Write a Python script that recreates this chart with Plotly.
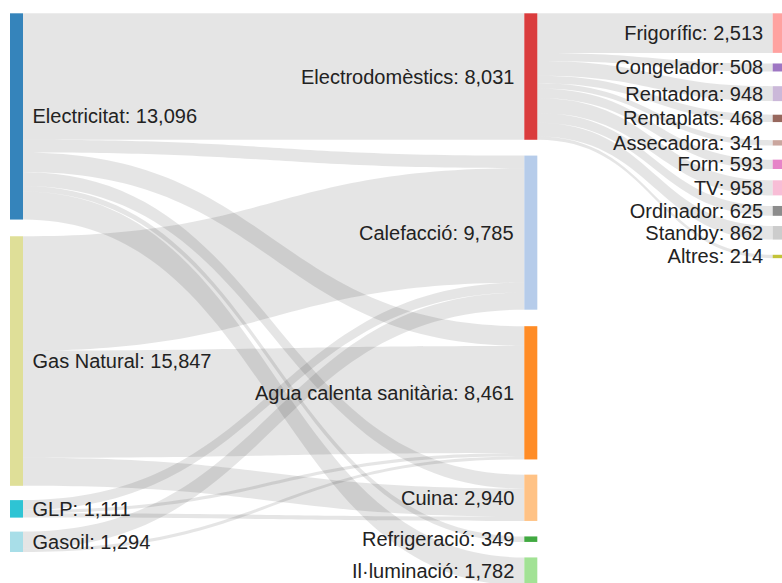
import plotly.graph_objects as go

# ---------------- data ----------------
energy_sources = ["Electricitat", "Gas Natural", "GLP", "Gasoil"]
energy_totals = [13096, 15847, 1111, 1294]

end_uses = ["Electrodomèstics", "Calefacció", "Agua calenta sanitària", "Cuina",
            "Refrigeració", "Il·luminació"]
end_use_totals = [8031, 9785, 8461, 2940, 349, 1782]

appliances = ["Frigorífic", "Congelador", "Rentadora", "Rentaplats", "Assecadora",
              "Forn", "TV", "Ordinador", "Standby", "Altres"]
appliance_totals = [2513, 508, 948, 468, 341, 593, 958, 625, 862, 214]

# flows from each energy source to each end use (same order as end_uses)
electricitat_to_use = [8031, 800, 1250, 884, 349, 1782]
gas_natural_to_use = [0, 7267, 6800, 1780, 0, 0]
glp_to_use = [0, 624, 211, 276, 0, 0]
gasoil_to_use = [0, 1094, 200, 0, 0, 0]
source_flows = [electricitat_to_use, gas_natural_to_use, glp_to_use, gasoil_to_use]

# ---------------- style / layout ----------------
FIG_W, FIG_H = 782, 583
NODE_PAD = 17.86
THICK = 13
LABEL_GAP = 9.5
FONT = dict(family="Liberation Sans, Arial, sans-serif", size=20, color="#222222")
source_colors = ["#1f77b4", "#dbdb8d", "#17becf", "#9edae5"]
use_colors = ["#d62728", "#aec7e8", "#ff7f0e", "#ffbb78", "#2ca02c", "#98df8a"]
appliance_colors = ["#ff9896", "#9467bd", "#c5b0d5", "#8c564b", "#c49c94",
                    "#e377c2", "#f7b6d2", "#7f7f7f", "#c7c7c7", "#bcbd22"]
column_x0 = [10.0, 524.3, 772.7]
column_top = [13.3, 13.3, 13.3]
column_gaps = [
    [16.7, 14.3, 14.0],
    [15.8, 16.5, 15.2, 15.5, 15.5],
    [10.6, 14.7, 13.6, 18.1, 14.1, 11.3, 10.6, 10.2, 15.2],
]


def rgba(hex_color, a=0.9):
    h = hex_color.lstrip("#")
    r, g, b = int(h[0:2], 16), int(h[2:4], 16), int(h[4:6], 16)
    return f"rgba({r},{g},{b},{a})"


# vertical scale used by the sankey (middle column sets the scale)
ky = (FIG_H - (len(end_uses) - 1) * NODE_PAD) / sum(end_use_totals)


def stack_centers(values, top, gaps):
    centers = []
    y = top
    for i, v in enumerate(values):
        h = v * ky
        centers.append(y + h / 2)
        y += h + (gaps[i] if i < len(gaps) else 0)
    return centers


columns = [(energy_sources, energy_totals), (end_uses, end_use_totals),
           (appliances, appliance_totals)]
labels, node_x, node_y = [], [], []
annotations = []
for ci, (names, totals) in enumerate(columns):
    centers = stack_centers(totals, column_top[ci], column_gaps[ci])
    for n, v, c in zip(names, totals, centers):
        text = f"{n}: {v:,}"
        node_x.append((column_x0[ci] + THICK / 2) / FIG_W)
        node_y.append(c / FIG_H)
        if ci == 1:
            # middle column: label on the left side of the node
            labels.append("")
            annotations.append(dict(
                x=(column_x0[ci] - LABEL_GAP) / FIG_W, y=1 - c / FIG_H,
                xref="paper", yref="paper", xanchor="right", yanchor="middle",
                text=text, showarrow=False, font=FONT, borderpad=0,
            ))
        else:
            labels.append(text)

colors = [rgba(c) for c in source_colors + use_colors + appliance_colors]

n_src = len(energy_sources)
n_use = len(end_uses)
src, tgt, val = [], [], []
for si, flows in enumerate(source_flows):
    for ui, v in enumerate(flows):
        if v > 0:
            src.append(si)
            tgt.append(n_src + ui)
            val.append(v)
elec_idx = n_src + end_uses.index("Electrodomèstics")
for ai, v in enumerate(appliance_totals):
    src.append(elec_idx)
    tgt.append(n_src + n_use + ai)
    val.append(v)

fig = go.Figure(go.Sankey(
    arrangement="fixed",
    node=dict(
        label=labels,
        x=node_x,
        y=node_y,
        pad=NODE_PAD,
        thickness=THICK,
        align="left",
        color=colors,
        # transparent outline: only widens the gap between node and its label
        line=dict(width=2 * (LABEL_GAP - 3), color="rgba(0,0,0,0)"),
    ),
    link=dict(source=src, target=tgt, value=val, color="rgba(0,0,0,0.1)"),
    textfont=dict(**FONT, shadow="none"),
))

fig.update_layout(
    width=FIG_W, height=FIG_H,
    margin=dict(l=0, r=0, t=0, b=0),
    paper_bgcolor="white",
    plot_bgcolor="white",
    annotations=annotations,
)

fig.write_html(
    "out.html",
    config={"displayModeBar": False},
    post_script=(
        "document.body.style.margin='0';"
        "document.body.style.overflow='hidden';"
        "document.documentElement.style.overflow='hidden';"
    ),
)
